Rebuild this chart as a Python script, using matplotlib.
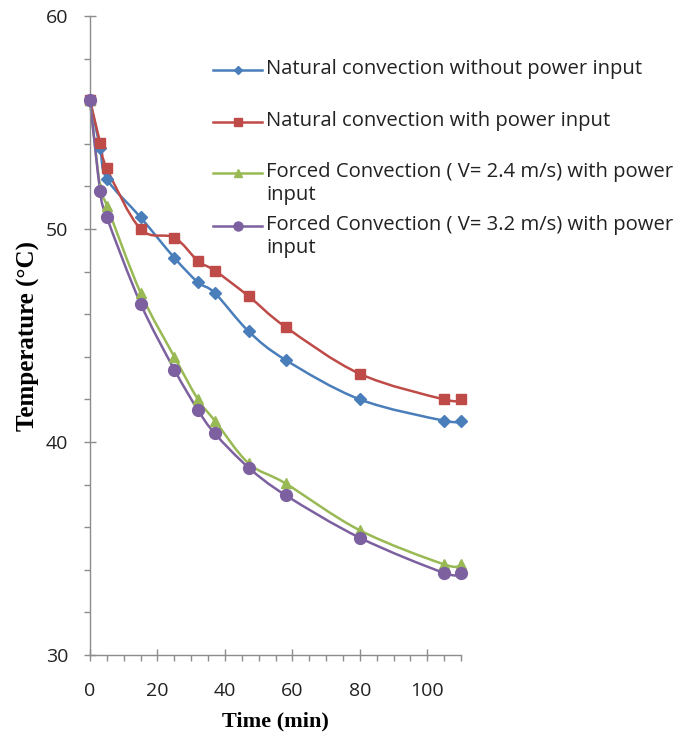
import matplotlib
matplotlib.use("Agg")
import matplotlib.pyplot as plt
from matplotlib.path import Path
from matplotlib.patches import PathPatch
from matplotlib.lines import Line2D
from matplotlib.ticker import MultipleLocator

# ---- data ----
time_min = [0, 3, 5, 15, 25, 32, 37, 47, 58, 80, 105, 110]
natural_no_power = [56.05, 53.8, 52.35, 50.55, 48.65, 47.5, 47.0, 45.2, 43.85, 42.0, 41.0, 41.0]
natural_power = [56.05, 54.05, 52.85, 50.0, 49.6, 48.5, 48.05, 46.85, 45.4, 43.2, 42.0, 42.0]
forced_24 = [56.05, 51.95, 51.1, 47.0, 44.0, 42.0, 41.0, 39.0, 38.05, 35.85, 34.25, 34.25]
forced_32 = [56.05, 51.8, 50.55, 46.5, 43.4, 41.5, 40.4, 38.8, 37.5, 35.5, 33.85, 33.85]

labels = ["Natural convection without power input",
          "Natural convection with power input",
          "Forced Convection ( V= 2.4 m/s) with power\ninput",
          "Forced Convection ( V= 3.2 m/s) with power\ninput"]
xlabel = "Time (min)"
ylabel = "Temperature (\u00b0C)"

colors = ["#4A7EBB", "#BE4B48", "#98B954", "#7D60A0"]
markers = ["D", "s", "^", "o"]
msizes = [6, 7.5, 7.5, 8.5]
leg_msizes = [4.5, 6, 6, 6.5]

fig = plt.figure(figsize=(7.0, 7.35), dpi=100)
ax = fig.add_axes([0.1286, 0.109, 0.53, 0.869])


def smooth_path(xs, ys):
    """Excel-like smoothed line via cubic Bezier segments."""
    n = len(xs)
    verts = [(xs[0], ys[0])]
    codes = [Path.MOVETO]
    for i in range(n - 1):
        x0, y0 = (xs[i - 1], ys[i - 1]) if i > 0 else (xs[i], ys[i])
        x1, y1 = xs[i], ys[i]
        x2, y2 = xs[i + 1], ys[i + 1]
        x3, y3 = (xs[i + 2], ys[i + 2]) if i + 2 < n else (x2, y2)
        c1 = (x1 + (x2 - x0) / 6.0, y1 + (y2 - y0) / 6.0)
        c2 = (x2 - (x3 - x1) / 6.0, y2 - (y3 - y1) / 6.0)
        verts += [c1, c2, (x2, y2)]
        codes += [Path.CURVE4] * 3
    return Path(verts, codes)


series = [natural_no_power, natural_power, forced_24, forced_32]
for ys, c, m, ms in zip(series, colors, markers, msizes):
    ax.add_patch(PathPatch(smooth_path(time_min, ys), fill=False,
                           edgecolor=c, lw=1.8, zorder=2, clip_on=False))
    ax.plot(time_min, ys, linestyle="none", marker=m, ms=ms,
            color=c, mec=c, zorder=3, clip_on=False)

ax.set_xlim(0, 110)
ax.set_ylim(30, 60)
ax.xaxis.set_major_locator(MultipleLocator(20))
ax.xaxis.set_minor_locator(MultipleLocator(5))
ax.yaxis.set_major_locator(MultipleLocator(10))
ax.yaxis.set_minor_locator(MultipleLocator(2))

for s in ["top", "right"]:
    ax.spines[s].set_visible(False)
for s in ["left", "bottom"]:
    ax.spines[s].set_color("#8C8C8C")
    ax.spines[s].set_linewidth(1.0)

ax.tick_params(axis="both", which="major", direction="inout", length=9,
               width=1.0, color="#8C8C8C", labelsize=14, labelcolor="#222222")
ax.tick_params(axis="both", which="minor", direction="out", length=4.5,
               width=1.0, color="#8C8C8C")
ax.tick_params(axis="x", which="major", pad=15)
ax.tick_params(axis="y", which="major", pad=11)
for lab in ax.get_xticklabels() + ax.get_yticklabels():
    lab.set_fontfamily("Open Sans")

ax.set_xlabel(xlabel, fontfamily="Liberation Serif", fontweight="bold",
              fontsize=16, labelpad=8)
ax.set_ylabel(ylabel, fontfamily="Liberation Serif", fontweight="bold",
              fontsize=18, labelpad=4)

# ---- legend (Excel style, drawn in figure pixels) ----
W, H = 700.0, 735.0
rows_y = [70, 122, 173, 226]
for lab, c, m, ms, yp in zip(labels, colors, markers, leg_msizes, rows_y):
    yf = 1 - yp / H
    fig.add_artist(Line2D([213 / W, 262 / W], [yf, yf], color=c, lw=1.8,
                          transform=fig.transFigure))
    fig.add_artist(Line2D([237.5 / W], [yf], color=c, marker=m, ms=ms,
                          mec=c, transform=fig.transFigure))
    fig.text(266 / W, yf + 11 / H, lab, fontfamily="Open Sans", fontsize=14.6,
             color="#222222", va="top", ha="left", linespacing=1.2)

fig.savefig("out.png", dpi=100)
